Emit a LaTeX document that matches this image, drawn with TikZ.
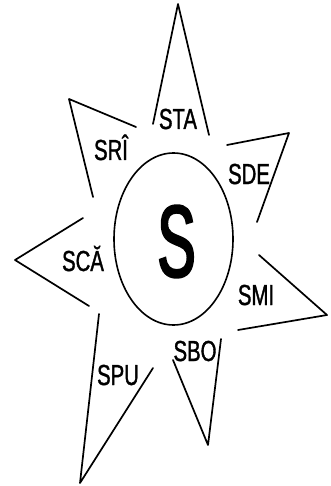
\documentclass[tikz,border=0pt]{standalone}
\usepackage{fontspec}
\usepackage{tikz}
\usetikzlibrary{shapes.geometric}
\newfontfamily\labfont[FakeStretch=0.7,FakeBold=1.2]{Liberation Sans}
\newfontfamily\corefont[FakeStretch=0.56,FakeBold=2.2]{Liberation Sans}

\begin{document}
\begin{tikzpicture}[
    x=1pt, y=-1pt,
    ray/.style={line width=1.7pt, line join=round, line cap=round},
    lbl/.style={font=\labfont\fontsize{29}{29}\selectfont, inner sep=0pt, anchor=base},
    core/.style={draw, ellipse, line width=1.6pt, minimum width=119pt, minimum height=172pt, inner sep=0pt},
    coretext/.style={font=\corefont\fontsize{102}{102}\selectfont, inner sep=0pt}
]
  \useasboundingbox (0,0) rectangle (331,486);

  % centre
  \node[core] (core) at (173.5,239) {};
  \node[coretext] (s) at (176.5,241.5) {S};

  % labels
  \node[lbl] (sta) at (178,129) {STA};
  \node[lbl] (sri) at (111,160) {SRÎ};
  \node[lbl] (sde) at (249,184) {SDE};
  \node[lbl] (sca) at (83,271) {SCĂ};
  \node[lbl] (smi) at (256,305) {SMI};
  \node[lbl] (sbo) at (195,361) {SBO};
  \node[lbl] (spu) at (118,385) {SPU};

  % spikes
  \coordinate (staA) at (153,124);
  \coordinate (staT) at (178,4);
  \coordinate (staB) at (209,135);
  \coordinate (sriA) at (136,127);
  \coordinate (sriT) at (69,99);
  \coordinate (sriB) at (93,197);
  \coordinate (sdeA) at (227,145);
  \coordinate (sdeT) at (289,133);
  \coordinate (sdeB) at (257,222);
  \coordinate (scaA) at (83,218);
  \coordinate (scaT) at (15,260);
  \coordinate (scaB) at (89,306);
  \coordinate (smiA) at (259,255);
  \coordinate (smiT) at (327,315);
  \coordinate (smiB) at (238,330);
  \coordinate (sboA) at (173,360);
  \coordinate (sboT) at (208,445);
  \coordinate (sboB) at (221,339);
  \coordinate (spuA) at (99,314);
  \coordinate (spuT) at (80,483);
  \coordinate (spuB) at (153,368);

  \draw[ray] (staA) -- (staT) -- (staB);
  \draw[ray] (sriA) -- (sriT) -- (sriB);
  \draw[ray] (sdeA) -- (sdeT) -- (sdeB);
  \draw[ray] (scaA) -- (scaT) -- (scaB);
  \draw[ray] (smiA) -- (smiT) -- (smiB);
  \draw[ray] (sboA) -- (sboT) -- (sboB);
  \draw[ray] (spuA) -- (spuT) -- (spuB);
\end{tikzpicture}
\end{document}
